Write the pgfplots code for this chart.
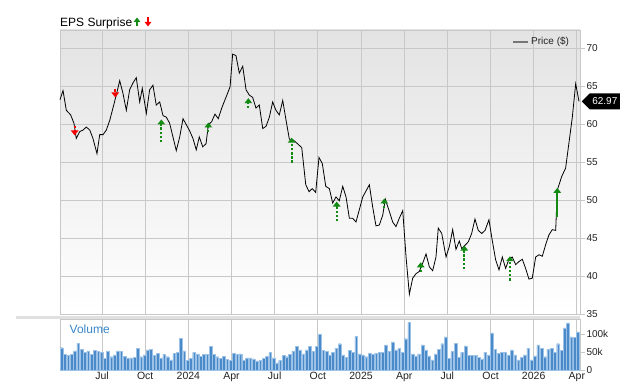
\documentclass[border=0pt]{standalone}
\usepackage{pgfplots}
\pgfplotsset{compat=1.18}
\usepackage{pgfplotstable}
\usepackage{fontspec}
\setmainfont{Liberation Sans}
\usetikzlibrary{arrows.meta,shapes.symbols}
\definecolor{gridc}{HTML}{C8C8C8}
\definecolor{upg}{HTML}{138A13}
\definecolor{dnr}{HTML}{F50000}
\definecolor{volb}{HTML}{4A8AC8}
\definecolor{vole}{HTML}{9CC2E8}
\definecolor{voltxt}{HTML}{3A86C8}
\definecolor{labc}{HTML}{222222}
\definecolor{legc}{HTML}{777777}

\pgfplotstableread{
m p
3.08 63.2
3.29 64.4
3.52 61.8
3.82 61.2
4.05 60.1
4.21 58.1
4.45 59.0
4.68 59.2
4.91 59.6
5.15 59.2
5.37 58.1
5.65 56.1
5.84 58.6
6.07 58.6
6.30 59.2
6.54 60.5
6.76 62.1
6.99 63.8
7.23 65.7
7.46 64.0
7.69 61.8
7.92 64.5
8.15 65.4
8.38 66.1
8.62 62.9
8.80 64.7
9.08 61.4
9.31 64.5
9.54 65.1
9.77 62.5
10.01 62.9
10.24 61.1
10.47 60.9
10.70 60.1
10.93 58.3
11.16 56.5
11.40 58.3
11.63 60.7
11.86 59.9
12.09 59.1
12.32 58.1
12.55 56.6
12.76 58.3
13.00 57.0
13.23 57.4
13.39 59.9
13.62 60.3
13.85 61.3
14.08 60.7
14.32 62.1
14.55 63.2
14.78 64.3
14.90 64.9
15.08 69.2
15.31 69.0
15.54 66.7
15.78 67.6
16.01 64.5
16.24 63.8
16.47 63.5
16.70 62.1
16.93 62.5
17.17 59.4
17.40 59.7
17.63 60.9
17.86 62.9
18.09 61.8
18.32 61.2
18.56 63.1
18.79 60.5
19.02 58.0
19.29 57.9
19.53 57.5
19.88 56.9
20.16 52.0
20.39 51.1
20.61 51.5
20.85 51.0
21.08 55.6
21.31 54.8
21.55 51.8
21.80 51.5
22.03 49.6
22.26 50.4
22.49 49.9
22.73 51.8
22.96 50.4
23.19 47.6
23.42 47.6
23.65 47.1
23.88 48.7
24.12 50.4
24.35 51.2
24.58 52.0
24.81 49.1
25.04 46.6
25.27 46.7
25.51 48.0
25.69 50.1
25.97 48.5
26.20 47.1
26.43 46.5
26.66 47.6
26.90 48.6
27.13 42.5
27.36 37.6
27.59 39.7
27.82 40.3
28.05 40.6
28.29 41.7
28.52 42.9
28.75 41.2
28.98 40.7
29.21 42.5
29.37 46.3
29.61 45.6
29.91 42.5
30.14 43.9
30.37 46.1
30.60 43.5
30.83 44.6
31.00 43.6
31.46 44.5
31.69 45.6
31.92 47.5
32.15 46.0
32.39 45.6
32.62 46.0
32.89 47.4
33.12 44.7
33.36 42.1
33.59 40.8
33.82 42.5
34.05 41.0
34.28 42.2
34.51 42.5
34.75 41.5
34.98 41.9
35.21 42.2
35.44 41.0
35.67 39.6
35.90 39.7
36.14 42.5
36.37 42.8
36.60 42.6
36.83 44.1
37.06 45.4
37.29 46.1
37.53 46.0
37.64 51.3
37.95 53.1
38.22 54.2
38.45 57.5
38.68 60.8
38.92 65.3
39.15 62.97
}\price

\pgfplotstableread{
v
62
43
40
43
53
74
58
49
53
43
54
51
49
32
53
37
42
53
51
38
34
34
36
60
37
42
56
58
40
46
34
44
37
28
46
49
88
53
27
32
49
45
38
43
43
65
43
37
32
38
30
27
46
43
45
27
34
34
31
25
26
32
38
49
34
20
27
40
37
43
53
65
56
45
56
65
51
65
100
54
51
42
50
61
73
42
36
54
49
94
45
42
37
47
43
47
49
49
70
51
78
56
61
50
87
133
45
39
45
70
56
39
28
45
58
73
92
33
51
75
36
49
67
40
40
40
36
31
50
42
103
58
47
49
49
42
56
42
28
36
42
61
28
39
70
61
37
58
61
49
73
54
117
131
92
91
106
}\vol

\tikzset{
  upar/.style={upg, line width=1.8pt, dash pattern=on 2.5pt off 1.6pt, -{Triangle[width=7.5pt,length=5pt]}},
  dnar/.style={dnr, line width=1.8pt, dash pattern=on 2.5pt off 1.6pt, -{Triangle[width=7.5pt,length=5pt]}},
}

\begin{document}
\begin{tikzpicture}
\useasboundingbox (0,0) rectangle (640pt,382pt);
\begin{axis}[
  at={(60pt,68pt)}, anchor=south west,
  scale only axis, width=520pt, height=284pt,
  xmin=3.08, xmax=39.22, ymin=35, ymax=72.37,
  xtick={6,9,...,39}, xticklabels={},
  ytick={35,40,...,70},
  ytick pos=right, yticklabel pos=right,
  grid=major, grid style={gridc, line width=0.9pt},
  axis line style={gridc, line width=0.9pt},
  tick align=outside,
  major tick length=5pt,
  ytick style={gridc, line width=0.9pt},
  xtick style={draw=none},
  yticklabel style={font=\fontsize{10}{12}\selectfont, text=labc, xshift=-2pt},
  /pgf/number format/assume math mode=true,
  axis background/.style={top color=black!11, middle color=black!3, bottom color=white},
  legend style={at={(axis description cs:0.985,0.985)}, anchor=north east, draw=none, fill=none,
    font=\fontsize{10}{12}\selectfont, text=labc, inner sep=1pt},
  legend cell align=left,
  clip=false,
]
\addplot[black, line width=0.8pt,
  legend image code/.code={\draw[legc, line width=1.8pt] (-3pt,0pt) -- (12pt,0pt);}]
  table[x=m, y=p]{\price};
\addlegendentry{Price (\$)}
% EPS surprise arrows
\addplot[dnar, forget plot] coordinates {(4.10,59.8) (4.10,58.5)};
\addplot[dnar, forget plot] coordinates {(6.92,64.6) (6.92,63.5)};
\addplot[upar, forget plot] coordinates {(10.12,57.6) (10.12,60.6)};
\addplot[upar, forget plot] coordinates {(13.39,58.9) (13.39,60.2)};
\addplot[upar, forget plot] coordinates {(16.17,62.1) (16.17,63.4)};
\addplot[upar, forget plot] coordinates {(19.18,54.9) (19.18,58.2)};
\addplot[upar, forget plot] coordinates {(22.31,47.2) (22.31,49.8)};
\addplot[upar, forget plot] coordinates {(25.62,48.9) (25.62,50.2)};
\addplot[upar, forget plot] coordinates {(28.15,40.5) (28.15,41.8)};
\addplot[upar, forget plot] coordinates {(31.18,40.9) (31.18,44.0)};
\addplot[upar, forget plot] coordinates {(34.35,39.4) (34.35,42.6)};
\addplot[upg, line width=1.8pt, -{Triangle[width=7.5pt,length=5pt]}, forget plot] coordinates {(37.64,47.7) (37.64,51.6)};
\node[signal, signal to=west, fill=black, text=white, font=\fontsize{10}{12}\selectfont,
  inner xsep=2.5pt, minimum height=16pt, anchor=west, xshift=1.5pt] at (axis cs:39.22,62.97) {62.97};
\end{axis}

\begin{axis}[
  at={(60pt,12pt)}, anchor=south west,
  scale only axis, width=520pt, height=51pt,
  xmin=3.08, xmax=39.22, ymin=0, ymax=141.7,
  xtick={6,9,...,39},
  xticklabels={Jul,Oct,2024,Apr,Jul,Oct,2025,Apr,Jul,Oct,2026,Apr},
  ytick={0,50,100}, yticklabels={0,50k,100k},
  ytick pos=right, yticklabel pos=right,
  xmajorgrids, grid style={gridc, line width=0.9pt},
  axis line style={gridc, line width=0.9pt},
  ytick align=outside, xtick align=inside, major tick length=5pt,
  ytick style={gridc, line width=0.9pt},
  xtick style={draw=none},
  yticklabel style={font=\fontsize{10}{12}\selectfont, text=labc, xshift=-2pt},
  xticklabel style={font=\fontsize{10.5}{12}\selectfont, text=labc, inner sep=0pt, yshift=-2pt},
  /pgf/number format/assume math mode=true,
  clip=false,
]
\addplot[ybar, bar width=0.19, fill=volb, draw=vole, line width=0.35pt]
  table[x expr=3.196+0.23*\coordindex, y=v]{\vol};
\draw[black!12, line width=2.5pt] (rel axis cs:0,1) ++(0,1.3pt) -- ([yshift=1.3pt]rel axis cs:1,1);
\end{axis}

\node[anchor=base west, font=\fontsize{12}{14}\selectfont, inner sep=0pt] at (60pt,355.5pt) {EPS Surprise};
\draw[upg, line width=1.6pt, -{Triangle[width=6.5pt,length=4.5pt]}] (137pt,355.5pt) -- (137pt,364.5pt);
\draw[dnr, line width=1.6pt, -{Triangle[width=6.5pt,length=4.5pt]}] (148pt,364.5pt) -- (148pt,355.5pt);
\node[anchor=base west, font=\fontsize{12}{14}\selectfont, text=voltxt, inner sep=0pt] at (69.5pt,48pt) {Volume};
\end{tikzpicture}
\end{document}
